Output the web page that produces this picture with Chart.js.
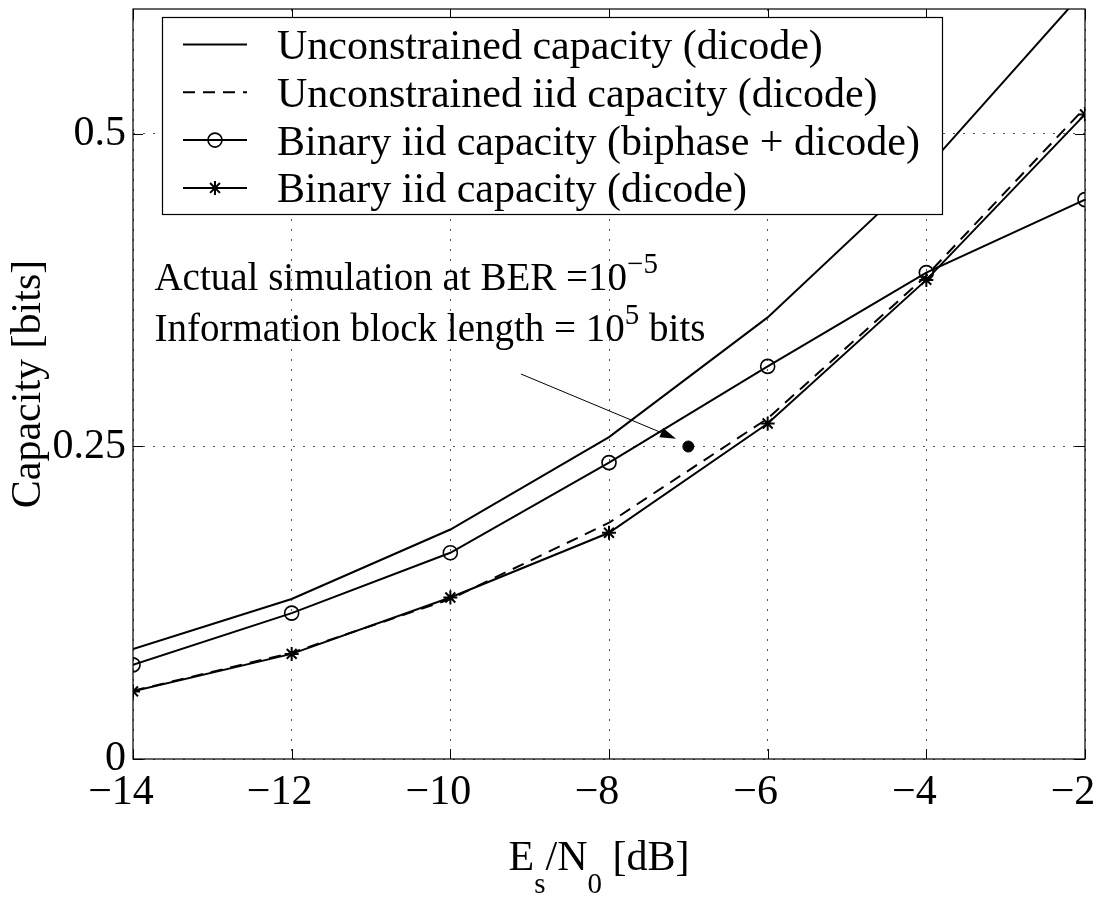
<!DOCTYPE html>
<html><head><meta charset="utf-8">
<script src="https://cdn.jsdelivr.net/npm/chart.js@4/dist/chart.umd.min.js"></script>
<style>html,body{margin:0;padding:0;background:#fff;} canvas{display:block}</style>
</head><body>
<canvas id="c" width="1102" height="899"></canvas>
<script>
// ---- data ----
const esn0 = [-14, -12, -10, -8, -6, -4, -2];
const unconstrained = [0.088, 0.128, 0.1836, 0.2575, 0.3533, 0.4725, 0.615];
const unconstrainedIid = [0.0545, 0.085, 0.128, 0.189, 0.2724, 0.3866, 0.521];
const binaryBiphase = [0.0753, 0.1167, 0.165, 0.2371, 0.3141, 0.3891, 0.4475];
const binaryDicode = [0.0541, 0.0841, 0.1292, 0.181, 0.2684, 0.3833, 0.5157];
const simX = [-7];
const simY = [0.25];
const seriesLabels = [
  'Unconstrained capacity (dicode)',
  'Unconstrained iid capacity (dicode)',
  'Binary iid capacity (biphase + dicode)',
  'Binary iid capacity (dicode)'
];
const xTicks = [-14, -12, -10, -8, -6, -4, -2];
const xTickLabels = ['\u221214', '\u221212', '\u221210', '\u22128', '\u22126', '\u22124', '\u22122'];
const yTicks = [0, 0.25, 0.5];
const yTickLabels = ['0', '0.25', '0.5'];
const yAxisTitle = 'Capacity [bits]';
const annotationLine1 = ['Actual simulation at BER =10', '\u22125', ''];
const annotationLine2 = ['Information block length = 10', '5', ' bits'];
const annotationPos = {x: -13.73, y1: 0.3756, y2: 0.3342};
const arrowFrom = {x: -9.11, y: 0.308};
const arrowTo = {x: -7.155, y: 0.2562};

const SERIF = "'Liberation Serif', 'Times New Roman', serif";

function pts(xs, ys) { return xs.map((x, i) => ({x: x, y: ys[i]})); }

const framePlugin = {
  id: 'frame',
  afterDatasetsDraw(chart) {
    const ctx = chart.ctx;
    const a = chart.chartArea;
    const xs = chart.scales.x, ys = chart.scales.y;
    ctx.save();
    // box
    ctx.strokeStyle = '#000';
    ctx.lineWidth = 1.2;
    ctx.strokeRect(a.left, a.top, a.right - a.left, a.bottom - a.top);
    // inward ticks
    ctx.lineWidth = 1;
    const tl = 10;
    ctx.beginPath();
    xTicks.forEach(v => {
      const p = Math.round(xs.getPixelForValue(v)) + 0.5;
      ctx.moveTo(p, a.bottom); ctx.lineTo(p, a.bottom - tl);
      ctx.moveTo(p, a.top); ctx.lineTo(p, a.top + tl);
    });
    yTicks.forEach(v => {
      const p = Math.round(ys.getPixelForValue(v)) + 0.5;
      ctx.moveTo(a.left, p); ctx.lineTo(a.left + tl, p);
      ctx.moveTo(a.right, p); ctx.lineTo(a.right - tl, p);
    });
    ctx.stroke();

    // annotation text
    ctx.fillStyle = '#000';
    ctx.textBaseline = 'alphabetic';
    ctx.textAlign = 'left';
    function drawSup(parts, x, y) {
      ctx.font = '39px ' + SERIF;
      ctx.fillText(parts[0], x, y);
      x += ctx.measureText(parts[0]).width;
      ctx.font = '29px ' + SERIF;
      ctx.fillText(parts[1], x, y - 17);
      x += ctx.measureText(parts[1]).width;
      ctx.font = '39px ' + SERIF;
      ctx.fillText(parts[2], x, y);
    }
    const tx = xs.getPixelForValue(annotationPos.x);
    drawSup(annotationLine1, tx, ys.getPixelForValue(annotationPos.y1));
    drawSup(annotationLine2, tx, ys.getPixelForValue(annotationPos.y2));

    // arrow
    const x1 = xs.getPixelForValue(arrowFrom.x), y1 = ys.getPixelForValue(arrowFrom.y);
    const x2 = xs.getPixelForValue(arrowTo.x), y2 = ys.getPixelForValue(arrowTo.y);
    const ang = Math.atan2(y2 - y1, x2 - x1);
    const hl = 16, hw = 5;
    ctx.lineWidth = 1;
    ctx.beginPath();
    ctx.moveTo(x1, y1);
    ctx.lineTo(x2 - hl * Math.cos(ang), y2 - hl * Math.sin(ang));
    ctx.stroke();
    ctx.beginPath();
    ctx.moveTo(x2, y2);
    ctx.lineTo(x2 - hl * Math.cos(ang) + hw * Math.sin(ang), y2 - hl * Math.sin(ang) - hw * Math.cos(ang));
    ctx.lineTo(x2 - hl * Math.cos(ang) - hw * Math.sin(ang), y2 - hl * Math.sin(ang) + hw * Math.cos(ang));
    ctx.closePath();
    ctx.fill();

    // legend
    const L = {left: 162, top: 17, right: 942, bottom: 214};
    ctx.fillStyle = '#fff';
    ctx.fillRect(L.left, L.top, L.right - L.left, L.bottom - L.top);
    ctx.strokeStyle = '#000';
    ctx.lineWidth = 1.2;
    ctx.strokeRect(L.left + 0.5, L.top + 0.5, L.right - L.left, L.bottom - L.top);
    chart.data.datasets.slice(0, 4).forEach((ds, i) => {
      const ry = 44.5 + 47.8 * i;
      ctx.save();
      ctx.strokeStyle = '#000';
      ctx.lineWidth = 2;
      ctx.setLineDash(ds.borderDash || []);
      ctx.beginPath();
      ctx.moveTo(183, ry); ctx.lineTo(247, ry);
      ctx.stroke();
      ctx.setLineDash([]);
      if (ds.pointRadius > 0) {
        ctx.fillStyle = 'rgba(0,0,0,0)';
        ctx.lineWidth = ds.pointBorderWidth;
        Chart.helpers.drawPoint(ctx, {pointStyle: ds.pointStyle, radius: ds.pointRadius, borderWidth: ds.pointBorderWidth, rotation: 0}, 215, ry);
      }
      ctx.restore();
      ctx.fillStyle = '#000';
      ctx.font = '42px ' + SERIF;
      ctx.fillText(ds.label, 277, ry + 14.5);
    });

    // x axis title with subscripts
    const parts = [['E', 42, 0], ['s', 29, 23], ['/N', 42, 0], ['0', 29, 23], [' [dB]', 42, 0]];
    let total = 0;
    parts.forEach(p => { ctx.font = p[1] + 'px ' + SERIF; total += ctx.measureText(p[0]).width; });
    let cx = 599 - total / 2;
    const base = 870;
    parts.forEach(p => {
      ctx.font = p[1] + 'px ' + SERIF;
      ctx.fillText(p[0], cx, base + p[2]);
      cx += ctx.measureText(p[0]).width;
    });
    ctx.restore();
  }
};

new Chart(document.getElementById('c'), {
  type: 'line',
  data: {
    datasets: [
      {label: seriesLabels[0], data: pts(esn0, unconstrained), borderColor: '#000', borderWidth: 2, pointRadius: 0, fill: false, tension: 0},
      {label: seriesLabels[1], data: pts(esn0, unconstrainedIid), borderColor: '#000', borderWidth: 2, borderDash: [12, 8], pointRadius: 0, fill: false, tension: 0},
      {label: seriesLabels[2], data: pts(esn0, binaryBiphase), borderColor: '#000', borderWidth: 2, pointStyle: 'circle', pointRadius: 7, pointBorderWidth: 1.6, pointBackgroundColor: 'rgba(0,0,0,0)', pointBorderColor: '#000', fill: false, tension: 0},
      {label: seriesLabels[3], data: pts(esn0, binaryDicode), borderColor: '#000', borderWidth: 2, pointStyle: 'star', pointRadius: 7, pointBorderWidth: 2, pointBackgroundColor: '#000', pointBorderColor: '#000', fill: false, tension: 0},
      {label: 'Simulation', type: 'scatter', data: pts(simX, simY), showLine: false, pointStyle: 'circle', pointRadius: 5.5, pointBackgroundColor: '#000', pointBorderColor: '#000', borderColor: '#000'}
    ]
  },
  options: {
    responsive: false,
    animation: false,
    devicePixelRatio: 1,
    layout: {padding: {top: 5, right: 17, left: 0, bottom: 0}},
    plugins: {legend: {display: false}, tooltip: {enabled: false}},
    scales: {
      x: {
        type: 'linear', min: -14, max: -2,
        afterBuildTicks: s => { s.ticks = xTicks.map(v => ({value: v})); },
        afterFit: s => { s.height = 140; s.paddingLeft = 0; s.paddingRight = 0; },
        ticks: {
          callback: (v) => xTickLabels[xTicks.indexOf(v)],
          font: {family: SERIF, size: 42}, color: '#000', padding: 9, labelOffset: -12, maxRotation: 0, autoSkip: false
        },
        grid: {color: '#555', lineWidth: 1, drawTicks: false},
        border: {display: false, dash: [2, 8]}
      },
      y: {
        type: 'linear', min: 0, max: 0.6,
        afterBuildTicks: s => { s.ticks = yTicks.map(v => ({value: v})); },
        afterFit: s => { s.width = 133; s.paddingTop = 0; s.paddingBottom = 0; },
        ticks: {
          callback: (v) => yTickLabels[yTicks.indexOf(v)],
          font: {family: SERIF, size: 42}, color: '#000', padding: 7, autoSkip: false
        },
        grid: {color: '#555', lineWidth: 1, drawTicks: false},
        border: {display: false, dash: [2, 8]},
        title: {display: true, text: yAxisTitle, font: {family: SERIF, size: 42}, color: '#000', padding: {top: 4, bottom: 0}}
      }
    }
  },
  plugins: [framePlugin]
});
</script>
</body></html>
